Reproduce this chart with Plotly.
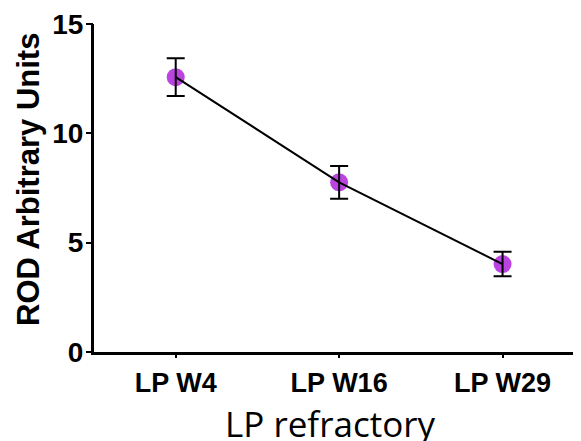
import plotly.graph_objects as go

categories = ["LP W4", "LP W16", "LP W29"]
means = [12.57, 7.76, 4.02]
errors = [0.86, 0.75, 0.56]
y_ticks = [0, 5, 10, 15]

# page has an 8px body margin; figure coordinates = page coordinates - 8
OFF = 8
W, H = 581 - OFF, 441 - OFF
L, T = 94 - OFF, 24 - OFF
R = 0
B = H - (352 - OFF)
pw = W - L - R
ph = H - T - B


def px_x(page_x):
    return (page_x - OFF - L) / pw


def px_y(page_y):
    return (H - B - (page_y - OFF)) / ph


XR = [-0.5, 2.48]
YR = [0, 15]

fig = go.Figure()
# markers underneath
fig.add_trace(go.Scatter(
    x=categories, y=means, mode="markers", xaxis="x", yaxis="y",
    marker=dict(size=18, color="#BB44E0", line=dict(width=0)),
    showlegend=False, hoverinfo="skip"))
# connecting line and error bars on top (overlay axes carry the tick marks)
fig.add_trace(go.Scatter(
    x=categories, y=means, mode="lines", xaxis="x2", yaxis="y2",
    line=dict(color="black", width=2),
    error_y=dict(type="data", array=errors, color="black", thickness=2, width=9),
    showlegend=False))

label_font_x = dict(size=27, family="Liberation Sans, Arial", weight="bold", color="black")
label_font_y = dict(size=28, family="Liberation Sans, Arial", weight="bold", color="black")

fig.update_layout(
    template="none",
    width=W, height=H,
    margin=dict(l=L, r=R, t=T, b=B, autoexpand=False),
    paper_bgcolor="white", plot_bgcolor="white",
    font=dict(family="Liberation Sans, Arial", color="black"),
    xaxis=dict(
        type="category", range=XR, automargin=False,
        categoryorder="array", categoryarray=categories,
        showline=True, linecolor="black", linewidth=3,
        ticks="", ticklabelstandoff=5,
        tickfont=label_font_x,
        showgrid=False, zeroline=False, fixedrange=True),
    yaxis=dict(
        range=YR, tickvals=y_ticks, automargin=False,
        showline=True, linecolor="black", linewidth=3,
        ticks="", ticklabelstandoff=2,
        tickfont=label_font_y,
        showgrid=False, zeroline=False, fixedrange=True),
    xaxis2=dict(
        type="category", range=XR, automargin=False, overlaying="x",
        categoryorder="array", categoryarray=categories,
        side="bottom", showline=False,
        ticks="outside", ticklen=5, tickwidth=2, tickcolor="black",
        showticklabels=False, showgrid=False, zeroline=False, fixedrange=True),
    yaxis2=dict(
        range=YR, tickvals=y_ticks, automargin=False, overlaying="y",
        side="left", showline=False,
        ticks="outside", ticklen=7, tickwidth=2, tickcolor="black",
        showticklabels=False, showgrid=False, zeroline=False, fixedrange=True),
    annotations=[
        dict(text="<b>ROD Arbitrary Units</b>", textangle=-90,
             xref="paper", yref="paper",
             x=px_x(28), y=px_y(180),
             xanchor="center", yanchor="middle", showarrow=False,
             font=dict(size=31, family="Liberation Sans, Arial", color="black")),
        dict(text="LP refractory",
             xref="paper", yref="paper",
             x=px_x(330), y=px_y(423),
             xanchor="center", yanchor="middle", showarrow=False,
             font=dict(size=35, family="Open Sans", color="black")),
    ],
)

fig.write_html("out.html")
